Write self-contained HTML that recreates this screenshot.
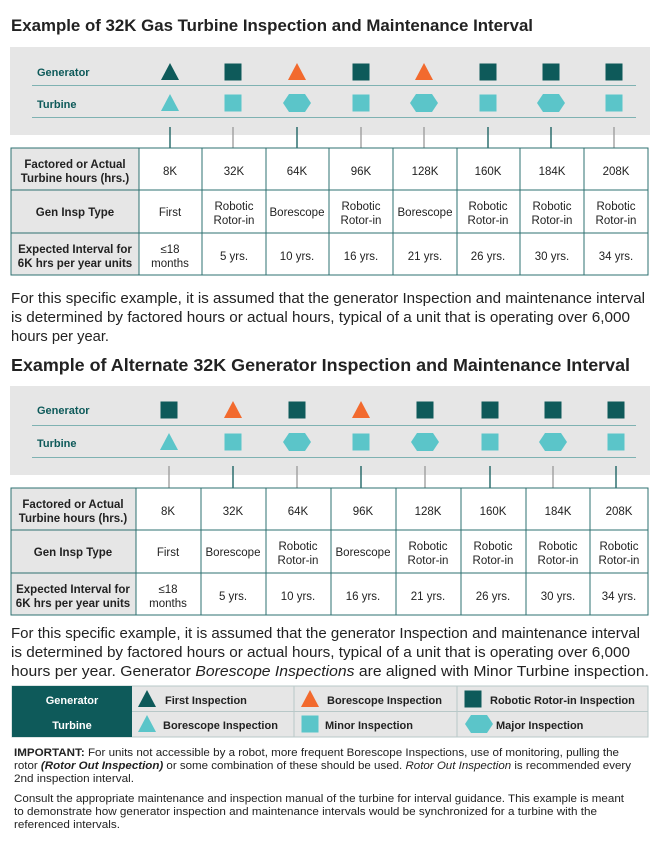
<!DOCTYPE html>
<html><head><meta charset="utf-8"><style>
body{margin:0;background:#fff;}
svg{display:block;font-family:"Liberation Sans",sans-serif;}
.t{font-size:17.5px;font-weight:bold;fill:#222;}
.p{font-size:14.6px;fill:#222;}
.c{font-size:11.5px;fill:#222;text-anchor:middle;}
.h{font-size:11.5px;fill:#222;text-anchor:middle;font-weight:bold;}
.rl{font-size:11px;font-weight:bold;fill:#0e5a5a;}
.lg{font-size:11px;font-weight:bold;fill:#222;}
.s{font-size:10.8px;fill:#222;}
</style></head><body>
<svg width="660" height="842" viewBox="0 0 660 842">
<defs>
<g id="tri"><polygon points="0,-9 9,8 -9,8"/></g>
<g id="sq"><rect x="-8.5" y="-8.5" width="17" height="17"/></g>
<g id="hex"><polygon points="-14,0 -8,-9 8,-9 14,0 8,9 -8,9"/></g>
</defs>

<text class="t" x="11" y="31" style="font-size:17px" textLength="522" lengthAdjust="spacingAndGlyphs">Example of 32K Gas Turbine Inspection and Maintenance Interval</text>
<rect x="10" y="47" width="640" height="88" fill="#e6e6e6"/>
<text class="rl" x="37" y="76">Generator</text>
<text class="rl" x="37" y="108">Turbine</text>
<line x1="32" y1="85.5" x2="636" y2="85.5" stroke="#7fb2b2" stroke-width="1"/>
<line x1="32" y1="117.5" x2="636" y2="117.5" stroke="#7fb2b2" stroke-width="1"/>
<g fill="#0e5a5a">
<use href="#tri" x="170" y="72"/><use href="#sq" x="233" y="72"/><use href="#sq" x="361" y="72"/>
<use href="#sq" x="488" y="72"/><use href="#sq" x="551" y="72"/><use href="#sq" x="614" y="72"/></g>
<g fill="#f26a2e"><use href="#tri" x="297" y="72"/><use href="#tri" x="424" y="72"/></g>
<g fill="#5bc5c9">
<use href="#tri" x="170" y="103"/><use href="#sq" x="233" y="103"/><use href="#hex" x="297" y="103"/>
<use href="#sq" x="361" y="103"/><use href="#hex" x="424" y="103"/><use href="#sq" x="488" y="103"/>
<use href="#hex" x="551" y="103"/><use href="#sq" x="614" y="103"/></g>
<g stroke-width="1.3">
<line x1="170" y1="127" x2="170" y2="148" stroke="#0e5a5a"/><line x1="233" y1="127" x2="233" y2="148" stroke="#999"/>
<line x1="297" y1="127" x2="297" y2="148" stroke="#0e5a5a"/><line x1="361" y1="127" x2="361" y2="148" stroke="#999"/>
<line x1="424" y1="127" x2="424" y2="148" stroke="#999"/><line x1="488" y1="127" x2="488" y2="148" stroke="#0e5a5a"/>
<line x1="551" y1="127" x2="551" y2="148" stroke="#0e5a5a"/><line x1="614" y1="127" x2="614" y2="148" stroke="#999"/></g>

<rect x="11" y="148" width="128" height="127" fill="#e6e6e6"/>
<g stroke="#2e7070" stroke-width="1" fill="none">
<rect x="11" y="148" width="637" height="127"/>
<line x1="11" y1="190" x2="648" y2="190"/><line x1="11" y1="233" x2="648" y2="233"/>
<line x1="139" y1="148" x2="139" y2="275"/><line x1="202" y1="148" x2="202" y2="275"/>
<line x1="266" y1="148" x2="266" y2="275"/><line x1="329" y1="148" x2="329" y2="275"/>
<line x1="393" y1="148" x2="393" y2="275"/><line x1="457" y1="148" x2="457" y2="275"/>
<line x1="520" y1="148" x2="520" y2="275"/><line x1="584" y1="148" x2="584" y2="275"/></g>
<text class="h" x="75" y="168">Factored or Actual</text><text class="h" x="75" y="182">Turbine hours (hrs.)</text>
<text class="h" x="75" y="216">Gen Insp Type</text>
<text class="h" x="75" y="253">Expected Interval for</text><text class="h" x="75" y="267">6K hrs per year units</text>
<text class="c" x="170" y="175">8K</text><text class="c" x="234" y="175">32K</text><text class="c" x="297" y="175">64K</text><text class="c" x="361" y="175">96K</text><text class="c" x="425" y="175">128K</text><text class="c" x="488" y="175">160K</text><text class="c" x="552" y="175">184K</text><text class="c" x="616" y="175">208K</text>
<text class="c" x="170" y="216">First</text>
<text class="c" x="234" y="210">Robotic</text><text class="c" x="234" y="224">Rotor-in</text>
<text class="c" x="297" y="216">Borescope</text>
<text class="c" x="361" y="210">Robotic</text><text class="c" x="361" y="224">Rotor-in</text>
<text class="c" x="425" y="216">Borescope</text>
<text class="c" x="488" y="210">Robotic</text><text class="c" x="488" y="224">Rotor-in</text>
<text class="c" x="552" y="210">Robotic</text><text class="c" x="552" y="224">Rotor-in</text>
<text class="c" x="616" y="210">Robotic</text><text class="c" x="616" y="224">Rotor-in</text>
<text class="c" x="170" y="253">≤18</text><text class="c" x="170" y="267">months</text>
<text class="c" x="234" y="260">5 yrs.</text><text class="c" x="297" y="260">10 yrs.</text><text class="c" x="361" y="260">16 yrs.</text><text class="c" x="425" y="260">21 yrs.</text><text class="c" x="488" y="260">26 yrs.</text><text class="c" x="552" y="260">30 yrs.</text><text class="c" x="616" y="260">34 yrs.</text>

<text class="p" x="11" y="303" textLength="634" lengthAdjust="spacingAndGlyphs">For this specific example, it is assumed that the generator Inspection and maintenance interval</text>
<text class="p" x="11" y="322" textLength="619" lengthAdjust="spacingAndGlyphs">is determined by factored hours or actual hours, typical of a unit that is operating over 6,000</text>
<text class="p" x="11" y="341" textLength="98" lengthAdjust="spacingAndGlyphs">hours per year.</text>

<text class="t" x="11" y="371" textLength="619" lengthAdjust="spacingAndGlyphs">Example of Alternate 32K Generator Inspection and Maintenance Interval</text>
<rect x="10" y="386" width="640" height="89" fill="#e6e6e6"/>
<text class="rl" x="37" y="414">Generator</text>
<text class="rl" x="37" y="447">Turbine</text>
<line x1="32" y1="425.5" x2="636" y2="425.5" stroke="#7fb2b2" stroke-width="1"/>
<line x1="32" y1="457.5" x2="636" y2="457.5" stroke="#7fb2b2" stroke-width="1"/>
<g fill="#0e5a5a">
<use href="#sq" x="169" y="410"/><use href="#sq" x="297" y="410"/><use href="#sq" x="425" y="410"/>
<use href="#sq" x="490" y="410"/><use href="#sq" x="553" y="410"/><use href="#sq" x="616" y="410"/></g>
<g fill="#f26a2e"><use href="#tri" x="233" y="410"/><use href="#tri" x="361" y="410"/></g>
<g fill="#5bc5c9">
<use href="#tri" x="169" y="442"/><use href="#sq" x="233" y="442"/><use href="#hex" x="297" y="442"/>
<use href="#sq" x="361" y="442"/><use href="#hex" x="425" y="442"/><use href="#sq" x="490" y="442"/>
<use href="#hex" x="553" y="442"/><use href="#sq" x="616" y="442"/></g>
<g stroke-width="1.3">
<line x1="169" y1="466" x2="169" y2="488" stroke="#999"/><line x1="233" y1="466" x2="233" y2="488" stroke="#0e5a5a"/>
<line x1="297" y1="466" x2="297" y2="488" stroke="#999"/><line x1="361" y1="466" x2="361" y2="488" stroke="#0e5a5a"/>
<line x1="425" y1="466" x2="425" y2="488" stroke="#999"/><line x1="490" y1="466" x2="490" y2="488" stroke="#0e5a5a"/>
<line x1="553" y1="466" x2="553" y2="488" stroke="#999"/><line x1="616" y1="466" x2="616" y2="488" stroke="#0e5a5a"/></g>

<rect x="11" y="488" width="125" height="127" fill="#e6e6e6"/>
<g stroke="#2e7070" stroke-width="1" fill="none">
<rect x="11" y="488" width="637" height="127"/>
<line x1="11" y1="530" x2="648" y2="530"/><line x1="11" y1="573" x2="648" y2="573"/>
<line x1="136" y1="488" x2="136" y2="615"/><line x1="201" y1="488" x2="201" y2="615"/>
<line x1="266" y1="488" x2="266" y2="615"/><line x1="331" y1="488" x2="331" y2="615"/>
<line x1="396" y1="488" x2="396" y2="615"/><line x1="461" y1="488" x2="461" y2="615"/>
<line x1="526" y1="488" x2="526" y2="615"/><line x1="590" y1="488" x2="590" y2="615"/></g>
<text class="h" x="73" y="508">Factored or Actual</text><text class="h" x="73" y="522">Turbine hours (hrs.)</text>
<text class="h" x="73" y="556">Gen Insp Type</text>
<text class="h" x="73" y="593">Expected Interval for</text><text class="h" x="73" y="607">6K hrs per year units</text>
<text class="c" x="168" y="515">8K</text><text class="c" x="233" y="515">32K</text><text class="c" x="298" y="515">64K</text><text class="c" x="363" y="515">96K</text><text class="c" x="428" y="515">128K</text><text class="c" x="493" y="515">160K</text><text class="c" x="558" y="515">184K</text><text class="c" x="619" y="515">208K</text>
<text class="c" x="168" y="556">First</text>
<text class="c" x="233" y="556">Borescope</text>
<text class="c" x="298" y="550">Robotic</text><text class="c" x="298" y="564">Rotor-in</text>
<text class="c" x="363" y="556">Borescope</text>
<text class="c" x="428" y="550">Robotic</text><text class="c" x="428" y="564">Rotor-in</text>
<text class="c" x="493" y="550">Robotic</text><text class="c" x="493" y="564">Rotor-in</text>
<text class="c" x="558" y="550">Robotic</text><text class="c" x="558" y="564">Rotor-in</text>
<text class="c" x="619" y="550">Robotic</text><text class="c" x="619" y="564">Rotor-in</text>
<text class="c" x="168" y="593">≤18</text><text class="c" x="168" y="607">months</text>
<text class="c" x="233" y="600">5 yrs.</text><text class="c" x="298" y="600">10 yrs.</text><text class="c" x="363" y="600">16 yrs.</text><text class="c" x="428" y="600">21 yrs.</text><text class="c" x="493" y="600">26 yrs.</text><text class="c" x="558" y="600">30 yrs.</text><text class="c" x="619" y="600">34 yrs.</text>

<text class="p" x="11" y="638" textLength="629" lengthAdjust="spacingAndGlyphs">For this specific example, it is assumed that the generator Inspection and maintenance interval</text>
<text class="p" x="11" y="657" textLength="619" lengthAdjust="spacingAndGlyphs">is determined by factored hours or actual hours, typical of a unit that is operating over 6,000</text>
<text class="p" x="11" y="676" textLength="638" lengthAdjust="spacingAndGlyphs">hours per year. Generator <tspan font-style="italic">Borescope Inspections</tspan> are aligned with Minor Turbine inspection.</text>

<rect x="12" y="686" width="636" height="51" fill="#e6e6e6" stroke="#b8c8c8"/>
<rect x="12" y="686" width="120" height="51" fill="#0e5a5a"/>
<g stroke="#b8c8c8"><line x1="132" y1="711.5" x2="648" y2="711.5"/><line x1="294" y1="686" x2="294" y2="737"/><line x1="457" y1="686" x2="457" y2="737"/></g>
<text x="72" y="704" font-size="11" font-weight="bold" fill="#fff" text-anchor="middle">Generator</text>
<text x="72" y="729" font-size="11" font-weight="bold" fill="#fff" text-anchor="middle">Turbine</text>
<use href="#tri" x="147" y="699" fill="#0e5a5a"/><text class="lg" x="165" y="704">First Inspection</text>
<use href="#tri" x="310" y="699" fill="#f26a2e"/><text class="lg" x="327" y="704">Borescope Inspection</text>
<use href="#sq" x="473" y="699" fill="#0e5a5a"/><text class="lg" x="490" y="704">Robotic Rotor-in Inspection</text>
<use href="#tri" x="147" y="724" fill="#5bc5c9"/><text class="lg" x="163" y="729">Borescope Inspection</text>
<use href="#sq" x="310" y="724" fill="#5bc5c9"/><text class="lg" x="325" y="729">Minor Inspection</text>
<use href="#hex" x="479" y="724" fill="#5bc5c9"/><text class="lg" x="496" y="729">Major Inspection</text>

<text class="s" x="14" y="756" textLength="605" lengthAdjust="spacingAndGlyphs"><tspan font-weight="bold">IMPORTANT:</tspan> For units not accessible by a robot, more frequent Borescope Inspections, use of monitoring, pulling the</text>
<text class="s" x="14" y="769" textLength="617" lengthAdjust="spacingAndGlyphs">rotor <tspan font-weight="bold" font-style="italic">(Rotor Out Inspection)</tspan> or some combination of these should be used. <tspan font-style="italic">Rotor Out Inspection</tspan> is recommended every</text>
<text class="s" x="14" y="782" textLength="120" lengthAdjust="spacingAndGlyphs">2nd inspection interval.</text>
<text class="s" x="14" y="802" textLength="610" lengthAdjust="spacingAndGlyphs">Consult the appropriate maintenance and inspection manual of the turbine for interval guidance. This example is meant</text>
<text class="s" x="14" y="815" textLength="583" lengthAdjust="spacingAndGlyphs">to demonstrate how generator inspection and maintenance intervals would be synchronized for a turbine with the</text>
<text class="s" x="14" y="828" textLength="106" lengthAdjust="spacingAndGlyphs">referenced intervals.</text>
</svg>
</body></html>
